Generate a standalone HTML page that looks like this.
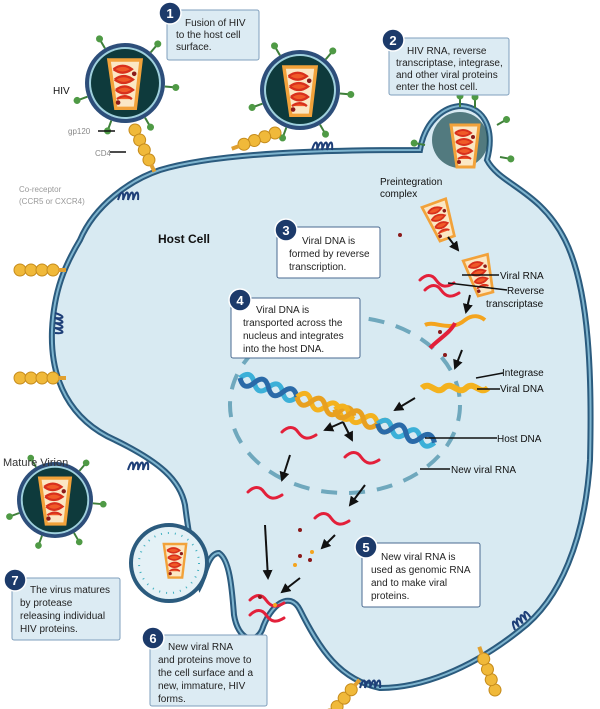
<!DOCTYPE html>
<html><head><meta charset="utf-8"><style>
body{margin:0;background:#fff;}
svg{display:block;font-family:"Liberation Sans",sans-serif;}
.bt{font-size:10px;fill:#222;}
.lb{font-size:10px;fill:#111;}
</style></head><body>
<svg width="600" height="709" viewBox="0 0 600 709" xmlns="http://www.w3.org/2000/svg">
<defs>
<g id="cap">
<path d="M-14,-20 L14,-20 L9,22 L-8,22 Z" fill="#fbe7c4" stroke="#f2a23a" stroke-width="3"/>
<path d="M-10,-12 q8,-6 16,0 q-8,6 -16,0 M-9,-3 q8,-6 16,0 q-8,6 -16,0 M-8,6 q8,-6 15,0 q-8,6 -15,0 M-7,14 q7,-5 13,0" fill="#f05a28" stroke="#d8301c" stroke-width="2"/>
<circle cx="-6" cy="17" r="2" fill="#8b1a1a"/><circle cx="8" cy="-8" r="2" fill="#8b1a1a"/>
</g>
<g id="spk"><line x1="0" y1="0" x2="0" y2="-9" stroke="#3f7f3a" stroke-width="2"/><circle cx="0" cy="-11" r="3.5" fill="#4f9a45"/></g>
<g id="vir">
<circle r="40" fill="#2d4e7a"/><circle r="36" fill="#9fd0dd"/><circle r="34" fill="#0e3a3c"/>
<use href="#spk" transform="rotate(-30) translate(0,-40)"/><use href="#spk" transform="rotate(40) translate(0,-40)"/>
<use href="#spk" transform="rotate(95) translate(0,-40)"/><use href="#spk" transform="rotate(150) translate(0,-40)"/>
<use href="#spk" transform="rotate(200) translate(0,-40)"/><use href="#spk" transform="rotate(250) translate(0,-40)"/>
<use href="#cap" transform="scale(1.15)"/>
</g>
<g id="coil"><path d="M0,0 c3,-10 6,-10 5,0 c3,-10 6,-10 5,0 c3,-10 6,-10 5,0 c3,-10 6,-10 5,0" fill="none" stroke="#1e3f78" stroke-width="2"/></g>
<g id="bead"><circle cx="0" cy="0" r="6" fill="#f0b93a" stroke="#c68c1c"/><circle cx="11" cy="0" r="6" fill="#f0b93a" stroke="#c68c1c"/><circle cx="22" cy="0" r="6" fill="#f0b93a" stroke="#c68c1c"/><circle cx="33" cy="0" r="6" fill="#f0b93a" stroke="#c68c1c"/><rect x="38" y="-2" width="8" height="4" fill="#e0a030"/></g>
<marker id="ar" viewBox="0 0 10 10" refX="8" refY="5" markerWidth="5" markerHeight="5" orient="auto"><path d="M0,0 L10,5 L0,10 Z" fill="#111"/></marker>
<g id="rna"><path d="M0,0 c6,-6 12,-6 16,0 c5,7 10,8 18,3" fill="none" stroke="#e3203a" stroke-width="3" stroke-linecap="round"/></g>
<path id="w1" d="M0,0 c5,-8 10,-8 15,0 c5,8 10,8 15,0 c5,-8 10,-8 15,0 c5,8 10,8 15,0" fill="none" stroke-width="5"/>
</defs>

<!-- cell -->
<path d="M80,240 C95,205 130,180 160,170 C220,152 330,150 420,150 C425,120 445,106 462,106 C485,108 495,130 487,160 C500,185 540,190 565,240 C590,290 592,380 590,460 C585,540 560,600 520,630 C470,670 420,688 380,688 C340,680 320,650 300,610 C290,590 270,605 262,630 C255,645 238,640 234,615 C232,590 230,560 219,553 C208,553 205,575 200,585 C195,570 188,530 185,505 C180,480 160,462 115,440 C70,420 50,380 52,330 C54,290 65,265 80,240 Z" fill="#d8eaf2" stroke="#2b5b7e" stroke-width="6"/>
<path d="M80,240 C95,205 130,180 160,170 C220,152 330,150 420,150 C425,120 445,106 462,106 C485,108 495,130 487,160 C500,185 540,190 565,240 C590,290 592,380 590,460 C585,540 560,600 520,630 C470,670 420,688 380,688 C340,680 320,650 300,610 C290,590 270,605 262,630 C255,645 238,640 234,615 C232,590 230,560 219,553 C208,553 205,575 200,585 C195,570 188,530 185,505 C180,480 160,462 115,440 C70,420 50,380 52,330 C54,290 65,265 80,240 Z" fill="none" stroke="#7fb5cf" stroke-width="2"/>
<!-- nucleus -->
<ellipse cx="345" cy="405" rx="115" ry="88" fill="none" stroke="#6fa8bd" stroke-width="4" stroke-dasharray="16,12"/>

<!-- virions -->
<use href="#vir" transform="translate(125,83)"/>
<use href="#vir" transform="translate(300,90)"/>
<use href="#vir" transform="translate(55,500) scale(0.95)"/>
<circle cx="460" cy="140" r="28" fill="#1a4a4e" opacity="0.7"/>
<use href="#cap" transform="translate(465,145)"/>
<use href="#spk" transform="translate(460,107)"/><use href="#spk" transform="translate(475,108)"/><use href="#spk" transform="translate(497,125) rotate(60)"/><use href="#spk" transform="translate(500,157) rotate(100)"/><use href="#spk" transform="translate(425,145) rotate(-80)"/>
<!-- bud bottom left -->
<circle cx="169" cy="563" r="38" fill="#e4f1f6" stroke="#2b5b7e" stroke-width="4"/>
<circle cx="169" cy="563" r="30" fill="none" stroke="#40b0c0" stroke-width="2" stroke-dasharray="1,6"/>
<use href="#cap" transform="translate(175,560) scale(0.8)"/>

<!-- receptors -->
<use href="#bead" transform="translate(135,130) rotate(65)"/>
<use href="#bead" transform="translate(275,133) rotate(160)"/>
<use href="#bead" transform="translate(20,270)"/>
<use href="#bead" transform="translate(20,378)"/>
<use href="#bead" transform="translate(330,715) rotate(-50)"/>
<use href="#bead" transform="translate(495,690) rotate(-110)"/>
<use href="#coil" transform="translate(118,200)"/><use href="#coil" transform="translate(312,150)"/>
<use href="#coil" transform="translate(55,313) rotate(90)"/><use href="#coil" transform="translate(128,470)"/>
<use href="#coil" transform="translate(360,688)"/><use href="#coil" transform="translate(515,630) rotate(-40)"/>

<!-- process -->
<use href="#cap" transform="translate(440,220) rotate(-20) scale(0.9)"/>
<use href="#cap" transform="translate(480,275) rotate(-15) scale(0.9)"/>
<use href="#rna" transform="translate(420,280)"/><use href="#rna" transform="translate(425,290)"/>
<path d="M425,325 c10,-5 25,8 40,-5 c8,-6 15,-4 20,0" fill="none" stroke="#f4a41e" stroke-width="4"/>
<path d="M430,348 c10,-10 20,-15 25,-25" fill="none" stroke="#e3203a" stroke-width="4"/>
<path d="M422,388 c8,-8 14,8 22,0 c8,-8 14,8 22,0 c8,-8 14,8 22,0" fill="none" stroke="#f4b21e" stroke-width="6"/>
<!-- host DNA helix -->
<g transform="translate(240,378) rotate(18.4)">
<use href="#w1" stroke="#3cb0d8"/><use href="#w1" stroke="#2a6aa8" transform="scale(1,-1)"/>
<use href="#w1" stroke="#f4b21e" transform="translate(60,0)"/><use href="#w1" stroke="#e8a020" transform="translate(60,0) scale(1,-1)"/>
<use href="#w1" stroke="#f4b21e" transform="translate(100,0)"/><use href="#w1" stroke="#e8a020" transform="translate(100,0) scale(1,-1)"/>
<use href="#w1" stroke="#3cb0d8" transform="translate(145,0)"/><use href="#w1" stroke="#2a6aa8" transform="translate(145,0) scale(1,-1)"/>
</g>
<use href="#rna" transform="translate(282,432)"/><use href="#rna" transform="translate(345,457)"/>
<use href="#rna" transform="translate(248,492)"/><use href="#rna" transform="translate(315,518)"/>
<use href="#rna" transform="translate(250,600)"/><use href="#rna" transform="translate(250,615)"/>
<g fill="#8b1a1a"><circle cx="300" cy="530" r="2"/><circle cx="310" cy="560" r="2"/><circle cx="300" cy="556" r="2"/><circle cx="260" cy="597" r="2"/><circle cx="440" cy="332" r="2"/><circle cx="445" cy="355" r="2"/><circle cx="400" cy="235" r="2"/></g>
<g fill="#f4a41e"><circle cx="312" cy="552" r="2"/><circle cx="295" cy="565" r="2"/><circle cx="275" cy="605" r="2"/></g>
<g stroke="#111" stroke-width="2" fill="none" marker-end="url(#ar)">
<line x1="448" y1="237" x2="458" y2="250"/><line x1="470" y1="295" x2="466" y2="312"/><line x1="462" y1="350" x2="455" y2="368"/>
<line x1="415" y1="398" x2="395" y2="410"/><line x1="343" y1="422" x2="325" y2="430"/><line x1="343" y1="422" x2="352" y2="440"/>
<line x1="290" y1="455" x2="282" y2="480"/><line x1="365" y1="485" x2="350" y2="505"/><line x1="265" y1="525" x2="268" y2="578"/>
<line x1="335" y1="535" x2="322" y2="548"/><line x1="300" y1="578" x2="282" y2="592"/>
</g>
<g stroke="#111" stroke-width="1.5">
<line x1="462" y1="275" x2="499" y2="275"/><line x1="448" y1="283" x2="507" y2="290"/>
<line x1="476" y1="378" x2="503" y2="373"/><line x1="477" y1="389" x2="500" y2="389"/>
<line x1="425" y1="438" x2="497" y2="438"/><line x1="420" y1="469" x2="450" y2="469"/>
<line x1="98" y1="131" x2="115" y2="131"/><line x1="110" y1="152" x2="126" y2="152"/>
</g>

<!-- labels -->
<text class="lb" x="53" y="94" font-size="11" fill="#333">HIV</text>
<text x="68" y="134" font-size="8" fill="#888">gp120</text>
<text x="95" y="156" font-size="8" fill="#888">CD4</text>
<text x="19" y="192" font-size="8" fill="#999">Co-receptor</text>
<text x="19" y="204" font-size="8" fill="#999">(CCR5 or CXCR4)</text>
<text x="3" y="466" font-size="11" fill="#333">Mature Virion</text>
<text x="158" y="243" font-size="12" font-weight="bold" fill="#111">Host Cell</text>
<text class="lb" x="380" y="185">Preintegration</text><text class="lb" x="380" y="197">complex</text>
<text class="lb" x="500" y="279">Viral RNA</text><text class="lb" x="507" y="294">Reverse</text><text class="lb" x="486" y="307">transcriptase</text>
<text class="lb" x="502" y="376">Integrase</text><text class="lb" x="500" y="392">Viral DNA</text>
<text class="lb" x="497" y="442">Host DNA</text><text class="lb" x="451" y="473">New viral RNA</text>

<!-- boxes -->
<g stroke-width="1">
<rect x="167" y="10" width="92" height="50" rx="2" fill="#dcebf3" stroke="#7f9fbc"/>
<rect x="389" y="38" width="120" height="57" rx="2" fill="#dcebf3" stroke="#7f9fbc"/>
<rect x="277" y="227" width="103" height="51" rx="2" fill="#fff" stroke="#4a6a90"/>
<rect x="231" y="298" width="129" height="60" rx="2" fill="#fff" stroke="#4a6a90"/>
<rect x="362" y="543" width="118" height="64" rx="2" fill="#fff" stroke="#4a6a90"/>
<rect x="150" y="635" width="117" height="71" rx="2" fill="#dcebf3" stroke="#7f9fbc"/>
<rect x="12" y="578" width="108" height="62" rx="2" fill="#dcebf3" stroke="#7f9fbc"/>
</g>
<g fill="#1c3a6a" stroke="#fff" stroke-width="1.5">
<circle cx="170" cy="13" r="11"/><circle cx="393" cy="40" r="11"/><circle cx="286" cy="230" r="11"/>
<circle cx="240" cy="300" r="11"/><circle cx="366" cy="547" r="11"/><circle cx="153" cy="638" r="11"/><circle cx="15" cy="580" r="11"/>
</g>
<g fill="#fff" font-size="13" font-weight="bold" text-anchor="middle">
<text x="170" y="18">1</text><text x="393" y="45">2</text><text x="286" y="235">3</text><text x="240" y="305">4</text>
<text x="366" y="552">5</text><text x="153" y="643">6</text><text x="15" y="585">7</text>
</g>
<g class="bt">
<text x="185" y="26">Fusion of  HIV</text><text x="176" y="38">to the host cell</text><text x="176" y="50">surface.</text>
<text x="407" y="54">HIV RNA, reverse</text><text x="396" y="66">transcriptase, integrase,</text><text x="396" y="78">and other viral proteins</text><text x="396" y="90">enter the host cell.</text>
<text x="302" y="244">Viral DNA is</text><text x="289" y="257">formed by reverse</text><text x="289" y="270">transcription.</text>
<text x="256" y="313">Viral DNA is</text><text x="243" y="326">transported across the</text><text x="243" y="339">nucleus and integrates</text><text x="243" y="352">into the host DNA.</text>
<text x="381" y="560">New viral RNA is</text><text x="371" y="573">used as genomic RNA</text><text x="371" y="586">and to make viral</text><text x="371" y="599">proteins.</text>
<text x="168" y="650">New viral RNA</text><text x="158" y="663">and proteins move to</text><text x="158" y="676">the cell surface and a</text><text x="158" y="689">new, immature,  HIV</text><text x="158" y="702">forms.</text>
<text x="30" y="593">The virus matures</text><text x="20" y="606">by protease</text><text x="20" y="619">releasing individual</text><text x="20" y="632">HIV proteins.</text>
</g>
</svg>
</body></html>
